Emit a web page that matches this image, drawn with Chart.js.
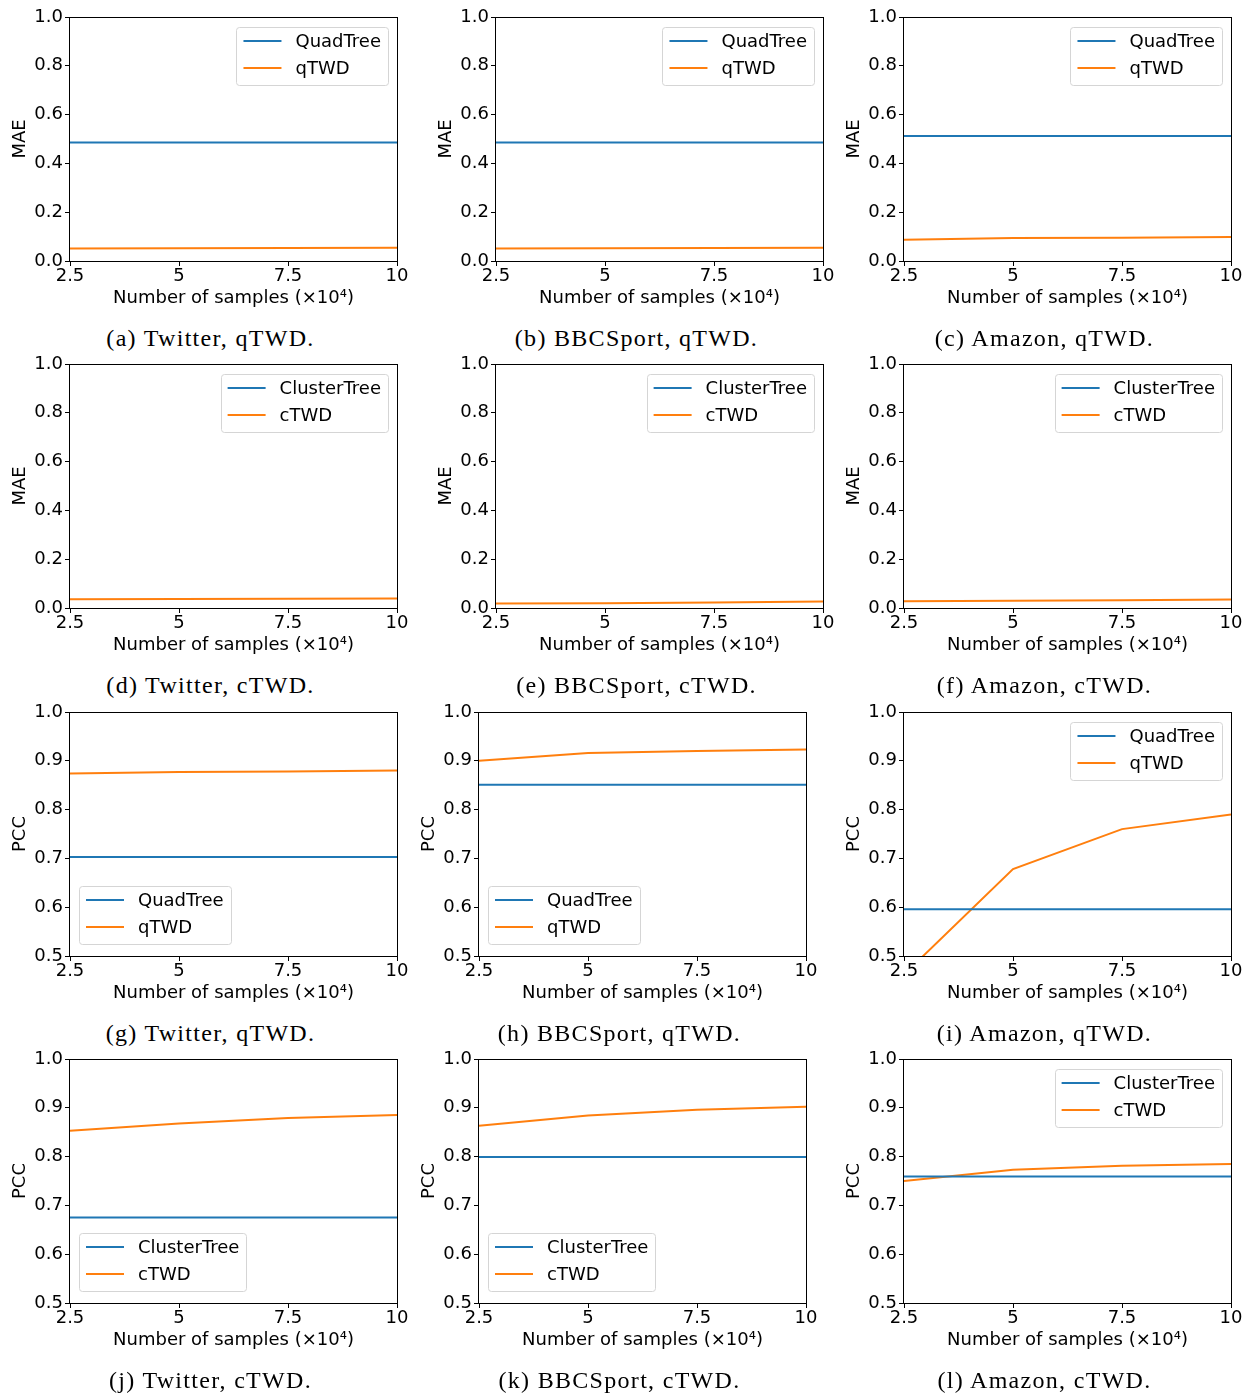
<!DOCTYPE html>
<html>
<head>
<meta charset="utf-8">
<script src="https://cdn.jsdelivr.net/npm/chart.js@4.4.1/dist/chart.umd.min.js"></script>
<style>
  body { margin: 0; background: #fff; width: 1245px; height: 1393px; position: relative; overflow: hidden; }
  .panel { position: absolute; width: 421px; height: 311px; }
  .caption {
    position: absolute; width: 421px; text-align: center;
    font-family: "Liberation Serif", serif; font-size: 24px; line-height: 30px;
    letter-spacing: 1.3px; color: #000; white-space: nowrap;
  }
</style>
</head>
<body>
<script>
// shared axes
const xSamples = [2.5, 5, 7.5, 10];
const xTickLabels = ['2.5', '5', '7.5', '10'];
const maeTicks = [0, 0.2, 0.4, 0.6, 0.8, 1.0];
const pccTicks = [0.5, 0.6, 0.7, 0.8, 0.9, 1.0];

// MAE, qTWD vs QuadTree
const twitterQuadMae = [0.486, 0.486, 0.486, 0.486];
const twitterQtwdMae = [0.051, 0.052, 0.053, 0.054];
const bbcQuadMae = [0.486, 0.486, 0.486, 0.486];
const bbcQtwdMae = [0.051, 0.052, 0.053, 0.054];
const amazonQuadMae = [0.512, 0.512, 0.512, 0.512];
const amazonQtwdMae = [0.087, 0.094, 0.095, 0.098];

// MAE, cTWD vs ClusterTree (ClusterTree sits above the 0..1 range, so it is clipped)
const twitterClusterMae = [1.2, 1.2, 1.2, 1.2];
const twitterCtwdMae = [0.036, 0.037, 0.038, 0.039];
const bbcClusterMae = [1.2, 1.2, 1.2, 1.2];
const bbcCtwdMae = [0.018, 0.019, 0.023, 0.027];
const amazonClusterMae = [1.2, 1.2, 1.2, 1.2];
const amazonCtwdMae = [0.028, 0.030, 0.032, 0.035];

// PCC, qTWD vs QuadTree
const twitterQuadPcc = [0.703, 0.703, 0.703, 0.703];
const twitterQtwdPcc = [0.874, 0.877, 0.878, 0.880];
const bbcQuadPcc = [0.851, 0.851, 0.851, 0.851];
const bbcQtwdPcc = [0.900, 0.916, 0.920, 0.923];
const amazonQuadPcc = [0.596, 0.596, 0.596, 0.596];
const amazonQtwdPcc = [0.462, 0.678, 0.760, 0.790];

// PCC, cTWD vs ClusterTree
const twitterClusterPcc = [0.675, 0.675, 0.675, 0.675];
const twitterCtwdPcc = [0.853, 0.868, 0.879, 0.885];
const bbcClusterPcc = [0.799, 0.799, 0.799, 0.799];
const bbcCtwdPcc = [0.863, 0.884, 0.896, 0.902];
const amazonClusterPcc = [0.759, 0.759, 0.759, 0.759];
const amazonCtwdPcc = [0.750, 0.773, 0.781, 0.785];

const BLUE = '#1f77b4';
const ORANGE = '#ff7f0e';
const SANS = 'DejaVu Sans';
const SANS_SIZE = 18;

// plot-area placement of each grid cell (left edge of axes, top edge of axes)
const PLOT_W = 327, PLOT_H = 244;
const rowTops = [17, 364, 712, 1059];
const colLefts = [[70, 496, 904], [70, 496, 904], [70, 479, 904], [70, 479, 904]];

const panels = [
  { cap: '(a) Twitter, qTWD.',  y: 'MAE', ticks: maeTicks, names: ['QuadTree', 'qTWD'], data: [twitterQuadMae, twitterQtwdMae], corner: 'ur' },
  { cap: '(b) BBCSport, qTWD.', y: 'MAE', ticks: maeTicks, names: ['QuadTree', 'qTWD'], data: [bbcQuadMae, bbcQtwdMae], corner: 'ur' },
  { cap: '(c) Amazon, qTWD.',   y: 'MAE', ticks: maeTicks, names: ['QuadTree', 'qTWD'], data: [amazonQuadMae, amazonQtwdMae], corner: 'ur' },
  { cap: '(d) Twitter, cTWD.',  y: 'MAE', ticks: maeTicks, names: ['ClusterTree', 'cTWD'], data: [twitterClusterMae, twitterCtwdMae], corner: 'ur' },
  { cap: '(e) BBCSport, cTWD.', y: 'MAE', ticks: maeTicks, names: ['ClusterTree', 'cTWD'], data: [bbcClusterMae, bbcCtwdMae], corner: 'ur' },
  { cap: '(f) Amazon, cTWD.',   y: 'MAE', ticks: maeTicks, names: ['ClusterTree', 'cTWD'], data: [amazonClusterMae, amazonCtwdMae], corner: 'ur' },
  { cap: '(g) Twitter, qTWD.',  y: 'PCC', ticks: pccTicks, names: ['QuadTree', 'qTWD'], data: [twitterQuadPcc, twitterQtwdPcc], corner: 'll' },
  { cap: '(h) BBCSport, qTWD.', y: 'PCC', ticks: pccTicks, names: ['QuadTree', 'qTWD'], data: [bbcQuadPcc, bbcQtwdPcc], corner: 'll' },
  { cap: '(i) Amazon, qTWD.',   y: 'PCC', ticks: pccTicks, names: ['QuadTree', 'qTWD'], data: [amazonQuadPcc, amazonQtwdPcc], corner: 'ur' },
  { cap: '(j) Twitter, cTWD.',  y: 'PCC', ticks: pccTicks, names: ['ClusterTree', 'cTWD'], data: [twitterClusterPcc, twitterCtwdPcc], corner: 'll' },
  { cap: '(k) BBCSport, cTWD.', y: 'PCC', ticks: pccTicks, names: ['ClusterTree', 'cTWD'], data: [bbcClusterPcc, bbcCtwdPcc], corner: 'll' },
  { cap: '(l) Amazon, cTWD.',   y: 'PCC', ticks: pccTicks, names: ['ClusterTree', 'cTWD'], data: [amazonClusterPcc, amazonCtwdPcc], corner: 'ur' },
];

Chart.defaults.color = '#000';
Chart.defaults.font.family = SANS;
Chart.defaults.font.size = SANS_SIZE;

// black box round the axes, like matplotlib spines
const axesFrame = {
  id: 'axesFrame',
  afterDatasetsDraw(chart) {
    const { ctx, chartArea: a } = chart;
    ctx.save();
    ctx.strokeStyle = '#000';
    ctx.lineWidth = 1;
    ctx.strokeRect(a.left - 0.5, a.top + 0.5, a.right - a.left + 1, a.bottom - a.top);
    ctx.restore();
  }
};

// legend drawn inside the axes
const insetLegend = {
  id: 'insetLegend',
  afterDraw(chart, args, opts) {
    const { ctx, chartArea: a } = chart;
    const items = chart.data.datasets;
    ctx.save();
    ctx.font = SANS_SIZE + 'px "' + SANS + '"';
    const textW = Math.max(...items.map(d => ctx.measureText(d.label).width));
    const w = 7 + 38 + 14 + textW + 7;
    const h = 58;
    const x = opts.corner === 'ur' ? a.right - 9 - w : a.left + 9;
    const y = opts.corner === 'ur' ? a.top + 10 : a.bottom - 12 - h;
    ctx.beginPath();
    ctx.roundRect(Math.round(x) + 0.5, Math.round(y) + 0.5, Math.round(w), h, 3);
    ctx.fillStyle = 'rgba(255,255,255,0.8)';
    ctx.fill();
    ctx.strokeStyle = '#d5d5d5';
    ctx.lineWidth = 1;
    ctx.stroke();
    items.forEach((d, i) => {
      const cy = y + 14 + i * 27;
      ctx.strokeStyle = d.borderColor;
      ctx.lineWidth = 2;
      ctx.beginPath();
      ctx.moveTo(x + 7, cy);
      ctx.lineTo(x + 45, cy);
      ctx.stroke();
      ctx.fillStyle = '#000';
      ctx.textBaseline = 'middle';
      ctx.textAlign = 'left';
      ctx.fillText(d.label, x + 59, cy + 1);
    });
    ctx.restore();
  }
};

panels.forEach((p, i) => {
  const row = Math.floor(i / 3), col = i % 3;
  const left = colLefts[row][col] - 70;
  const div = document.createElement('div');
  div.className = 'panel';
  div.style.left = left + 'px';
  div.style.top = (rowTops[row] - 17) + 'px';
  const canvas = document.createElement('canvas');
  canvas.width = 421;
  canvas.height = 311;
  div.appendChild(canvas);
  document.body.appendChild(div);

  const cap = document.createElement('div');
  cap.className = 'caption';
  cap.style.left = left + 'px';
  cap.style.top = (rowTops[row] + 306) + 'px';
  cap.textContent = p.cap;
  document.body.appendChild(cap);

  new Chart(canvas, {
    type: 'line',
    data: {
      datasets: p.names.map((name, k) => ({
        label: name,
        data: xSamples.map((x, j) => ({ x, y: p.data[k][j] })),
        borderColor: k === 0 ? BLUE : ORANGE,
        borderWidth: 2,
        pointRadius: 0,
        tension: 0,
        fill: false,
      })),
    },
    options: {
      responsive: false,
      animation: false,
      layout: { padding: { top: 17, right: 421 - 70 - PLOT_W, left: 0, bottom: 0 } },
      plugins: {
        legend: { display: false },
        tooltip: { enabled: false },
        insetLegend: { corner: p.corner },
      },
      scales: {
        x: {
          type: 'linear',
          min: xSamples[0],
          max: xSamples[xSamples.length - 1],
          afterBuildTicks: s => { s.ticks = xSamples.map(v => ({ value: v })); },
          afterFit: s => { s.height = 50; },
          ticks: {
            padding: 0,
            maxRotation: 0,
            autoSkip: false,
            callback: v => xTickLabels[xSamples.indexOf(v)],
          },
          grid: { drawOnChartArea: false, drawTicks: true, tickLength: 5, color: '#000', tickColor: '#000' },
          border: { display: false },
          title: { display: true, text: 'Number of samples (×10⁴)', padding: { top: 4, bottom: 1.5 } },
        },
        y: {
          type: 'linear',
          min: p.ticks[0],
          max: p.ticks[p.ticks.length - 1],
          afterBuildTicks: s => { s.ticks = p.ticks.map(v => ({ value: v })); },
          afterFit: s => { s.width = 70; },
          ticks: { padding: 2, callback: v => v.toFixed(1) },
          grid: { drawOnChartArea: false, drawTicks: true, tickLength: 5, color: '#000', tickColor: '#000' },
          border: { display: false },
          title: { display: true, text: p.y, padding: { top: 9.5, bottom: 0 } },
        },
      },
    },
    plugins: [axesFrame, insetLegend],
  });
});
</script>
</body>
</html>
